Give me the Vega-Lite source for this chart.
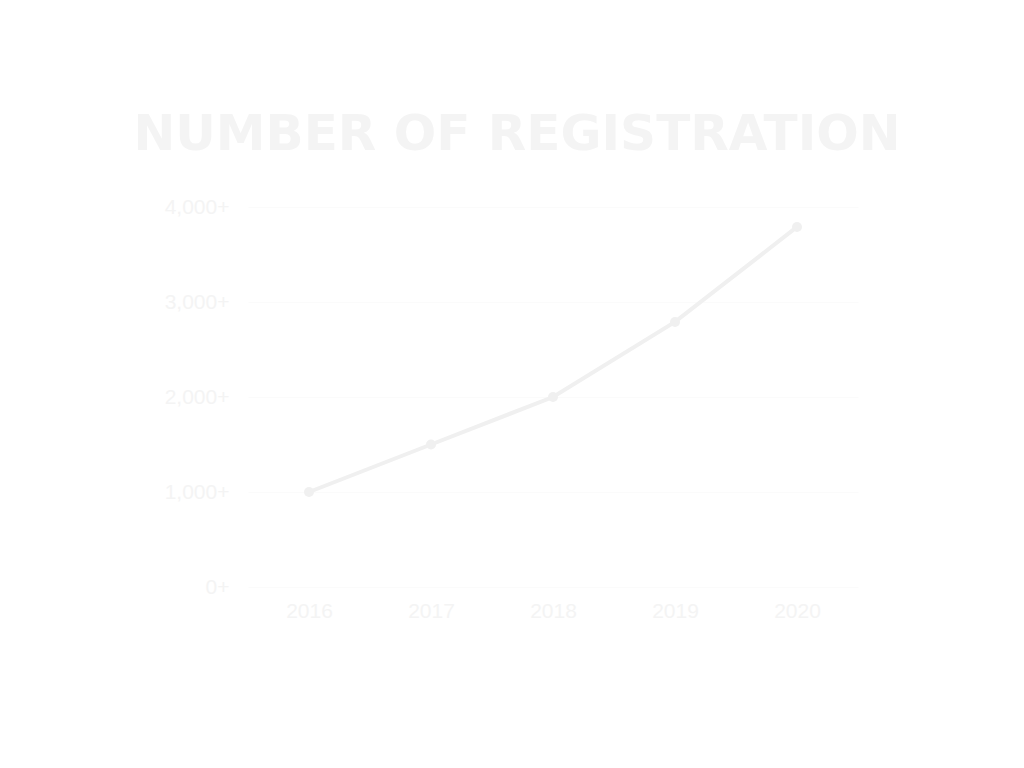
{
  "$schema": "https://vega.github.io/schema/vega-lite/v6.json",
  "width": 610,
  "height": 380,
  "autosize": "none",
  "padding": {"left": 248, "top": 207, "right": 166, "bottom": 181},
  "background": "#ffffff",
  "title": {
    "text": "NUMBER OF REGISTRATION",
    "font": "DejaVu Sans",
    "fontSize": 50,
    "fontWeight": "bold",
    "color": "#f4f4f4",
    "anchor": "middle",
    "frame": "group",
    "dx": -36,
    "offset": 36
  },
  "data": {
    "values": [
      {"year": "2016", "registrations": 1000},
      {"year": "2017", "registrations": 1500},
      {"year": "2018", "registrations": 2000},
      {"year": "2019", "registrations": 2790},
      {"year": "2020", "registrations": 3790}
    ]
  },
  "config": {"view": {"stroke": null}},
  "mark": {"type": "line", "color": "#f0f0f0", "strokeWidth": 4, "point": {"filled": true, "size": 100, "color": "#f0f0f0"}},
  "encoding": {
    "x": {
      "field": "year", "type": "ordinal",
      "scale": {"type": "point", "padding": 0.5},
      "axis": {"title": null, "labelAngle": 0, "labelFont": "Liberation Sans", "labelFontSize": 21, "labelColor": "#f4f4f4", "domain": false, "ticks": false, "labelPadding": 13, "grid": false}
    },
    "y": {
      "field": "registrations", "type": "quantitative",
      "scale": {"domain": [0, 4000]},
      "axis": {"title": null, "values": [0, 1000, 2000, 3000, 4000], "labelExpr": "format(datum.value, ',') + '+'", "labelFont": "Liberation Sans", "labelFontSize": 21, "labelColor": "#f4f4f4", "domain": false, "ticks": false, "labelPadding": 19, "grid": true, "gridColor": "#fbfbfb", "gridWidth": 1}
    }
  }
}
